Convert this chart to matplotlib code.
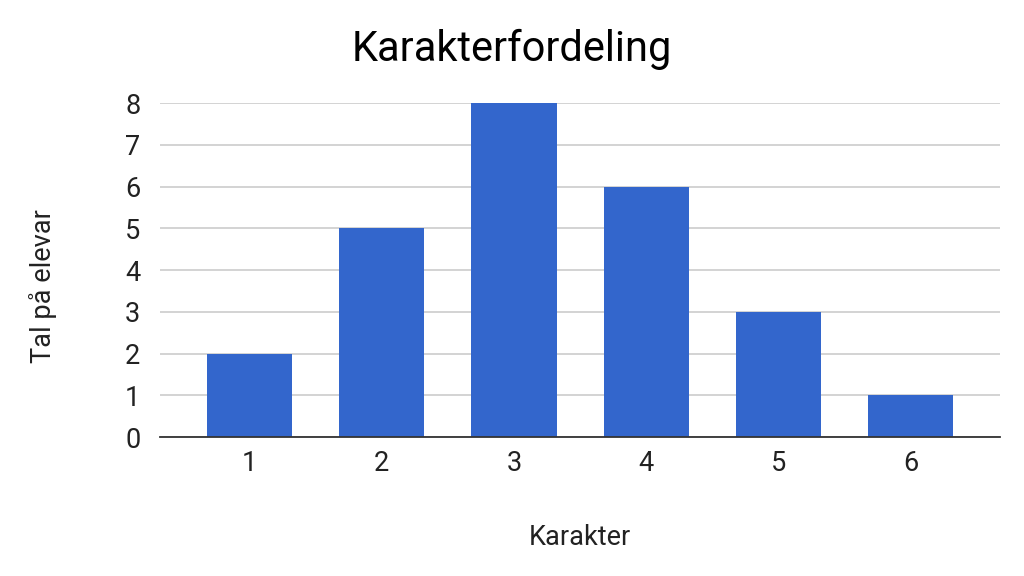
import matplotlib
matplotlib.use('Agg')
import matplotlib.pyplot as plt

plt.rcParams['font.family'] = ['Roboto', 'DejaVu Sans']

karakterar = ['1', '2', '3', '4', '5', '6']
tal_elevar = [2, 5, 8, 6, 3, 1]
y_ticks = [0, 1, 2, 3, 4, 5, 6, 7, 8]

fig = plt.figure(figsize=(10.24, 5.76), dpi=100)
ax = fig.add_axes([0.156, 0.241, 0.821, 0.580])

x = range(1, len(karakterar) + 1)
ax.bar(x, tal_elevar, width=0.645, color='#3366cc', zorder=3)

ax.set_xlim(0.32, 6.68)
ax.set_ylim(0, 8)
ax.set_yticks(y_ticks)
ax.set_xticks(list(x))
ax.set_xticklabels(karakterar)
ax.grid(axis='y', color='#cccccc', linewidth=1.2, zorder=0)

for s in ['top', 'right', 'left']:
    ax.spines[s].set_visible(False)
ax.spines['bottom'].set_color('#333333')
ax.spines['bottom'].set_linewidth(1.3)
ax.spines['bottom'].set_zorder(4)

ax.tick_params(axis='both', length=0, labelsize=19.5, colors='#222222')
ax.tick_params(axis='x', pad=9)
ax.tick_params(axis='y', pad=14)

ax.set_xlabel('Karakter', fontsize=19.5, color='#222222', labelpad=34)
# y-tittel litt under midten, som i originalen
fig.text(0.042, 0.503, 'Tal på elevar', rotation=90, ha='center', va='center',
         fontsize=19.5, color='#222222')
fig.text(0.5, 0.914, 'Karakterfordeling', ha='center', va='center', fontsize=30, color='#000000')

fig.savefig('out.png', dpi=100)
